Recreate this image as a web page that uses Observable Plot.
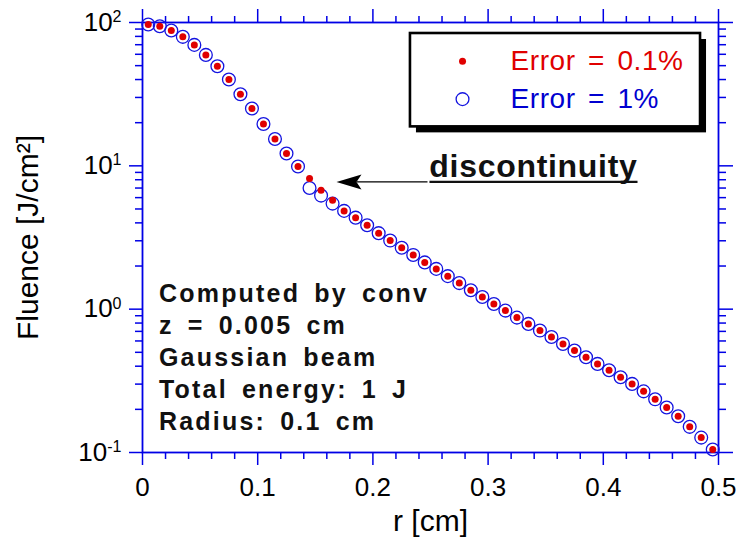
<!DOCTYPE html>
<html>
<head>
<meta charset="utf-8">
<script src="https://cdn.jsdelivr.net/npm/d3@7"></script>
<script src="https://cdn.jsdelivr.net/npm/@observablehq/plot@0.6"></script>
<style>
  body { margin: 0; background: #fff; }
  svg { display: block; }
</style>
</head>
<body>
<div id="chart"></div>
<script>
// ---- data ----
const radius = [0.005, 0.015, 0.025, 0.035, 0.045, 0.055, 0.065, 0.075, 0.085, 0.095,
                0.105, 0.115, 0.125, 0.135, 0.145, 0.155, 0.165, 0.175, 0.185, 0.195,
                0.205, 0.215, 0.225, 0.235, 0.245, 0.255, 0.265, 0.275, 0.285, 0.295,
                0.305, 0.315, 0.325, 0.335, 0.345, 0.355, 0.365, 0.375, 0.385, 0.395,
                0.405, 0.415, 0.425, 0.435, 0.445, 0.455, 0.465, 0.475, 0.485, 0.495];
const fluenceErr01 = [96.9, 94.2, 88.0, 79.4, 69.8, 59.4, 49.5, 40.0, 31.6, 25.1,
                      19.6, 15.4, 12.2, 9.89, 8.15, 6.76, 5.75, 4.85, 4.35, 3.85,
                      3.39, 3.01, 2.68, 2.39, 2.12, 1.91, 1.70, 1.52, 1.355, 1.217,
                      1.087, 0.977, 0.873, 0.789, 0.709, 0.640, 0.572, 0.514, 0.462, 0.415,
                      0.375, 0.335, 0.301, 0.267, 0.235, 0.206, 0.179, 0.151, 0.127, 0.105];
const fluenceErr1 = [96.9, 94.2, 88.0, 79.4, 69.8, 59.4, 49.5, 40.0, 31.6, 25.1,
                     19.6, 15.4, 12.2, 9.89, 7.0, 6.2, 5.45, 4.85, 4.35, 3.85,
                     3.39, 3.01, 2.68, 2.39, 2.12, 1.91, 1.70, 1.52, 1.355, 1.217,
                     1.087, 0.977, 0.873, 0.789, 0.709, 0.640, 0.572, 0.514, 0.462, 0.415,
                     0.375, 0.335, 0.301, 0.267, 0.235, 0.206, 0.179, 0.151, 0.127, 0.105];
const seriesNames = ["Error = 0.1%", "Error = 1%"];
const noteLines = ["Computed by conv", "z = 0.005 cm", "Gaussian beam", "Total energy: 1 J", "Radius: 0.1 cm"];
const annotationText = "discontinuity";
const xTitle = "r [cm]";
const yTitle = "Fluence [J/cm\u00B2]";
const xMajorTicks = [0, 0.1, 0.2, 0.3, 0.4, 0.5];
const xTickLabels = ["0", "0.1", "0.2", "0.3", "0.4", "0.5"];
const xMinorTicks = [0.02, 0.04, 0.06, 0.08, 0.12, 0.14, 0.16, 0.18, 0.22, 0.24, 0.26, 0.28,
                     0.32, 0.34, 0.36, 0.38, 0.42, 0.44, 0.46, 0.48];
const yMajorTicks = [0.1, 1, 10, 100];
const yTickBases = ["10", "10", "10", "10"];
const yTickExponents = ["-1", "0", "1", "2"];
const yMinorTicks = [0.2, 0.3, 0.4, 0.5, 0.6, 0.7, 0.8, 0.9,
                     2, 3, 4, 5, 6, 7, 8, 9,
                     20, 30, 40, 50, 60, 70, 80, 90];

// ---- styling ----
const axisBlue = "#0000e6";
const circleBlue = "#1414e0";
const dotRed = "#e00000";
const textBlue = "#0000d0";

const data01 = radius.map((r, i) => ({r, f: fluenceErr01[i]}));
const data1 = radius.map((r, i) => ({r, f: fluenceErr1[i]}));

const arrowHead = {
  draw(ctx) {
    ctx.moveTo(0, 0);
    ctx.lineTo(25, -7.5);
    ctx.lineTo(20, 0);
    ctx.lineTo(25, 7.5);
    ctx.closePath();
  }
};

const chart = Plot.plot({
  width: 741,
  height: 541,
  marginLeft: 142,
  marginRight: 23,
  marginTop: 22,
  marginBottom: 89,
  style: {fontFamily: "'Liberation Sans', Arial, Helvetica, sans-serif", background: "#fff", color: "black", overflow: "visible"},
  x: {domain: [0, 0.5]},
  y: {type: "log", domain: [0.1, 100]},
  marks: [
    // minor ticks
    Plot.axisX(xMinorTicks, {anchor: "bottom", tickSize: 7, stroke: axisBlue, strokeWidth: 1.5, fill: "none", label: null}),
    Plot.axisX(xMinorTicks, {anchor: "top", tickSize: 7, stroke: axisBlue, strokeWidth: 1.5, fill: "none", label: null}),
    Plot.axisY(yMinorTicks, {anchor: "left", tickSize: 7, stroke: axisBlue, strokeWidth: 1.5, fill: "none", label: null}),
    Plot.axisY(yMinorTicks, {anchor: "right", tickSize: 7, stroke: axisBlue, strokeWidth: 1.5, fill: "none", label: null}),
    // major ticks
    Plot.axisX(xMajorTicks, {anchor: "top", tickSize: 14, stroke: axisBlue, strokeWidth: 1.5, fill: "none", label: null}),
    Plot.axisY(yMajorTicks, {anchor: "right", tickSize: 14, stroke: axisBlue, strokeWidth: 1.5, fill: "none", label: null}),
    Plot.axisY(yMajorTicks, {anchor: "left", tickSize: 13, stroke: axisBlue, strokeWidth: 1.5, fill: "none", label: null}),
    Plot.axisX(xMajorTicks, {anchor: "bottom", tickSize: 13, tickPadding: 12, stroke: axisBlue, strokeWidth: 1.5,
      fill: "black", fontSize: 26, label: null, tickFormat: d => xTickLabels[xMajorTicks.indexOf(d)]}),
    // y tick labels (10 with superscript exponent added below)
    Plot.text(yMajorTicks, {y: d => d, frameAnchor: "left", dx: -21, textAnchor: "end", lineAnchor: "middle",
      fontSize: 26, fill: "black", text: (d, i) => yTickBases[i] + "^" + yTickExponents[i]}),
    Plot.frame({stroke: axisBlue, strokeWidth: 1.8}),
    // axis titles
    Plot.text([xTitle], {frameAnchor: "bottom", dy: 69, fontSize: 30, textAnchor: "middle", lineAnchor: "middle", fill: "black"}),
    Plot.text([yTitle], {frameAnchor: "left", dx: -114, rotate: -90, fontSize: 30, textAnchor: "middle", lineAnchor: "middle", fill: "black"}),
    // series
    Plot.dot(data1, {x: "r", y: "f", r: 6.4, stroke: circleBlue, strokeWidth: 1.3, fill: "none"}),
    Plot.dot(data01, {x: "r", y: "f", r: 3.5, fill: dotRed, stroke: "none"}),
    // legend box
    Plot.rect([0], {x1: 0.2326, x2: 0.4844, y1: 83.8, y2: 18.7, dx: 6, dy: 6, fill: "black"}),
    Plot.rect([0], {x1: 0.2326, x2: 0.4844, y1: 83.8, y2: 18.7, fill: "white", stroke: "black", strokeWidth: 2.6}),
    Plot.dot([0], {x: 0.2778, y: 53.7, r: 3.5, fill: dotRed, stroke: "none"}),
    Plot.dot([0], {x: 0.2778, y: 29.2, r: 6.4, stroke: circleBlue, strokeWidth: 1.3, fill: "none"}),
    Plot.text([seriesNames[0]], {x: 0.3194, y: 53.7, textAnchor: "start", lineAnchor: "middle", fontSize: 28, fill: dotRed}),
    Plot.text([seriesNames[1]], {x: 0.3194, y: 29.2, textAnchor: "start", lineAnchor: "middle", fontSize: 28, fill: textBlue}),
    // discontinuity annotation
    Plot.text([annotationText], {x: 0.249, y: 9.86, textAnchor: "start", lineAnchor: "middle", fontSize: 32, fontWeight: "bold", fill: "#111"}),
    Plot.link([0], {x1: 0.2491, x2: 0.4297, y1: 7.72, y2: 7.72, stroke: "#111", strokeWidth: 2.3}),
    Plot.link([0], {x1: 0.2474, x2: 0.186, y1: 7.72, y2: 7.72, stroke: "black", strokeWidth: 1.3}),
    Plot.dot([0], {x: 0.1684, y: 7.72, symbol: arrowHead, fill: "black", stroke: "none"}),
    // note
    Plot.text([noteLines.join("\n")], {x: 0.0143, y: 1.617, textAnchor: "start", lineAnchor: "top", lineHeight: 1.28,
      fontSize: 25, fontWeight: "bold", fill: "#111"})
  ]
});

// post-process text: superscripts and spacing
d3.select(chart).selectAll("text").each(function () {
  const s = this.textContent;
  const t = d3.select(this);
  if (/^10\^-?\d$/.test(s)) {
    const [base, exp] = s.split("^");
    t.text(base);
    t.append("tspan").attr("dy", "-0.55em").attr("font-size", "16px").text(exp);
  } else if (s.startsWith("Computed")) {
    t.style("letter-spacing", "2.2px").style("word-spacing", "5px");
  } else if (s.startsWith("Error")) {
    t.style("letter-spacing", "0.6px").style("word-spacing", "4px");
  } else if (s === annotationText) {
    t.style("letter-spacing", "0.7px");
  }
});

document.getElementById("chart").appendChild(chart);
</script>
</body>
</html>
